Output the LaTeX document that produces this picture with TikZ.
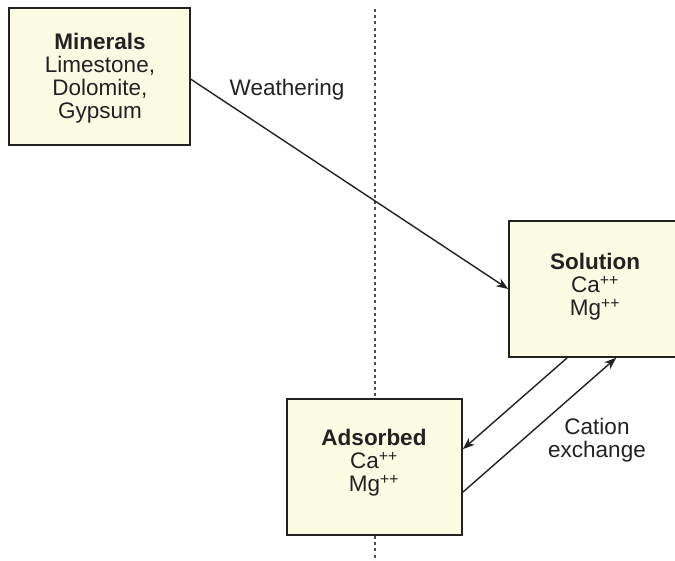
\documentclass[tikz,border=0pt]{standalone}
\usepackage{fontspec}
\setmainfont{Liberation Sans}
\usetikzlibrary{calc,arrows.meta}
\definecolor{boxfill}{HTML}{FBFBE4}
\definecolor{ink}{HTML}{222222}
\tikzset{
  box/.style={draw=ink, line width=1.6pt, fill=boxfill, inner sep=0pt},
  txt/.style={text=ink, align=center, font=\fontsize{22.5}{23}\selectfont, inner sep=0pt},
  conn/.style={draw=ink, line width=1.4pt, -{Stealth[length=12pt,width=9pt]}},
  divider/.style={draw=ink!80, line width=2.2pt, dash pattern=on 3pt off 3.2pt}
}
\begin{document}
\begin{tikzpicture}[x=1pt,y=-1pt]
\useasboundingbox (0,0) rectangle (675,561);
\clip (0,0) rectangle (675,561);
\fill[white] (0,0) rectangle (675,561);
% divider line
\coordinate (dtop) at (375,9);
\coordinate (dbot) at (375,561);
\draw[divider] (dtop) -- (dbot);
% boxes
\node[box, minimum width=231pt, minimum height=136pt] (sol) at (624.5,289) {};
\node[box, minimum width=181pt, minimum height=137pt] (min) at (99.5,76.5) {};
\node[box, minimum width=175pt, minimum height=136pt] (ads) at (374.5,467) {};
% texts
\node[txt] (mint) at (100,78.5) {\textbf{Minerals}\\Limestone,\\Dolomite,\\Gypsum};
\node[txt] (solt) at (595,287) {\textbf{Solution}\\Ca\textsuperscript{++}\\Mg\textsuperscript{++}};
\node[txt] (adst) at (374,463) {\textbf{Adsorbed}\\Ca\textsuperscript{++}\\Mg\textsuperscript{++}};
\node[txt] (weath) at (287,90) {Weathering};
\node[txt] (cat) at (597,440) {Cation\\exchange};
% connectors
\draw[conn] ($(min.north east)+(0,72)$) -- (sol.west);
\draw[conn] ($(sol.south west)+(59,0)$) -- ($(ads.north east)+(0,51)$);
\draw[conn] ($(ads.north east)+(0,94)$) -- ($(sol.south west)+(108,0)$);
\end{tikzpicture}
\end{document}
